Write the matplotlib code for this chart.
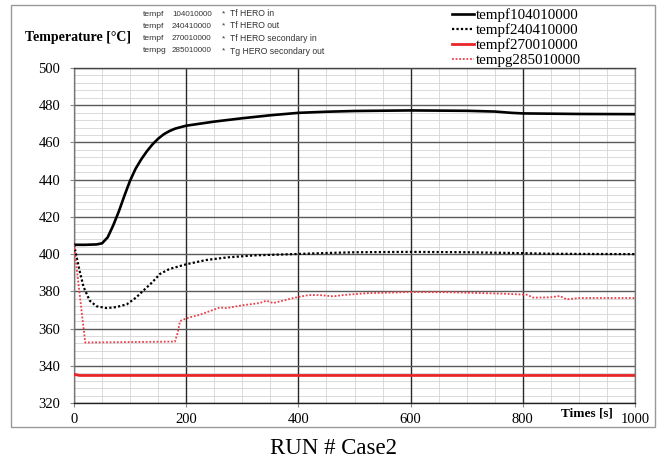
import matplotlib
matplotlib.use("Agg")
import matplotlib.pyplot as plt
from matplotlib.patches import Rectangle
from matplotlib.ticker import MultipleLocator

# tempf104010000 - Tf HERO in
t_in = [0, 20, 40, 50, 60, 70, 80, 90, 100, 110, 120, 130, 140, 150, 160, 170,
        180, 200, 250, 300, 350, 400, 450, 500, 600, 700, 750, 780, 800, 900, 1000]
T_in = [405, 405, 405.2, 405.8, 409, 415.5, 423, 431.5, 439.5, 446, 451, 455.3,
        459, 462, 464.4, 466.1, 467.4, 469, 471.2, 473, 474.6, 475.9, 476.5,
        476.9, 477.2, 477, 476.6, 475.9, 475.6, 475.3, 475.2]

# tempf240410000 - Tf HERO out
t_out = [0, 10, 17, 28, 40, 58, 75, 94, 110, 124, 140, 153, 170, 201, 235, 272,
         320, 391, 450, 500, 600, 700, 800, 850, 900, 1000]
T_out = [405, 391, 382.4, 375, 372, 371, 371.5, 373, 376.5, 380.5, 385, 389.3,
         392, 394.6, 396.8, 398.2, 399.3, 400, 400.6, 401, 401.2, 401, 400.5,
         400.2, 400.1, 400]

# tempf270010000 - Tf HERO secondary in
t_sec_in = [0, 10, 1000]
T_sec_in = [335.4, 334.8, 334.8]

# tempg285010000 - Tg HERO secondary out
t_sec_out = [0, 20, 180, 185, 189, 200, 225, 260, 272, 300, 331, 343, 355, 391,
             418, 438, 462, 480, 522, 599, 670, 759, 807, 819, 850, 866, 878,
             900, 1000]
T_sec_out = [405, 352.5, 353, 358, 364, 365.5, 367.5, 371.3, 371, 372.5, 373.7,
             375, 373.7, 376.4, 378, 378, 377.3, 378, 379, 379.6, 379.5, 378.8,
             378.2, 376.6, 376.8, 377.5, 375.7, 376.4, 376.4]

labels = ["tempf104010000", "tempf240410000", "tempf270010000", "tempg285010000"]
notes = [("tempf", "104010000", "Tf HERO in"),
         ("tempf", "240410000", "Tf HERO out"),
         ("tempf", "270010000", "Tf HERO secondary in"),
         ("tempg", "285010000", "Tg HERO secondary out")]

W, H = 662, 462
fig = plt.figure(figsize=(W / 100, H / 100), dpi=100)
ax = fig.add_axes([74 / W, 1 - 403 / H, (635 - 74) / W, (403 - 68) / H])

serif = "Liberation Serif"

ax.plot(t_in, T_in, color="black", lw=1.9, label=labels[0], zorder=3)
ax.plot(t_out, T_out, color="black", lw=1.6, ls=(0, (1, 1.0)), label=labels[1], zorder=3)
ax.plot(t_sec_in, T_sec_in, color="#e8262a", lw=2.0, label=labels[2], zorder=3)
ax.plot(t_sec_out, T_sec_out, color="#ec3f4a", lw=1.3, ls=(0, (1, 1.0)),
        label=labels[3], zorder=3)

ax.set_xlim(0, 1000)
ax.set_ylim(320, 500)
ax.xaxis.set_major_locator(MultipleLocator(200))
ax.xaxis.set_minor_locator(MultipleLocator(50))
ax.yaxis.set_major_locator(MultipleLocator(20))
ax.yaxis.set_minor_locator(MultipleLocator(4))
ax.set_axisbelow(True)
ax.grid(which="minor", color="#d4d4d4", lw=0.6)

# major grid drawn on top of the minor one
for x in ax.get_xticks()[1:-1]:
    ax.axvline(x, color="#2a2a2a", lw=1.0, zorder=1)
for y in ax.get_yticks()[1:-1]:
    ax.axhline(y, color="#5a5a5a", lw=1.0, zorder=1)

ax.tick_params(which="minor", length=0)
ax.tick_params(which="major", direction="out", length=3, width=0.8, color="#888888",
               labelsize=10.5)
ax.tick_params(axis="y", pad=7)
ax.tick_params(axis="x", pad=4)
for lab in ax.get_xticklabels() + ax.get_yticklabels():
    lab.set_family(serif)

for side in ["left", "right"]:
    ax.spines[side].set_color("#777777")
    ax.spines[side].set_linewidth(0.9)
ax.spines["top"].set_color("#444444")
ax.spines["top"].set_linewidth(1.0)
ax.spines["bottom"].set_color("#222222")
ax.spines["bottom"].set_linewidth(1.0)

# outer frame
fig.patches.append(Rectangle((11 / W, 1 - 427 / H), (655 - 11) / W, (427 - 5) / H,
                             transform=fig.transFigure, fill=False,
                             edgecolor="#999999", lw=1.0))

fig.text(25 / W, 1 - 37 / H, "Temperature [°C]", family=serif, weight="bold",
         fontsize=10, va="center", ha="left")
fig.text(613 / W, 1 - 413 / H, "Times [s]", family=serif, weight="bold",
         fontsize=9.5, va="center", ha="right")
fig.text(333 / W, 1 - 448 / H, "RUN # Case2", family=serif, fontsize=16.5,
         va="center", ha="center")

rows_y = [14, 26, 38.5, 51]
for (a, b, c), y in zip(notes, rows_y):
    fy = 1 - y / H
    fig.text(143 / W, fy, a, family="Liberation Sans", fontsize=6.1, va="center",
             color="#333333")
    fig.text(172 / W, fy, b, family="Liberation Sans", fontsize=5.8, va="center",
             color="#333333")
    fig.text(222 / W, fy, "*", family="Liberation Sans", fontsize=6.1, va="center",
             color="#333333")
    fig.text(230 / W, fy, c, family="Liberation Sans", fontsize=6.2, va="center",
             color="#333333")

fig.legend(loc="upper left", bbox_to_anchor=(452 / W, 1 - 8 / H), frameon=False,
           prop={"family": serif, "size": 10.8}, handlelength=1.45,
           handletextpad=0.15, labelspacing=0.1, borderpad=0, borderaxespad=0)

fig.savefig("out.png", dpi=100)
